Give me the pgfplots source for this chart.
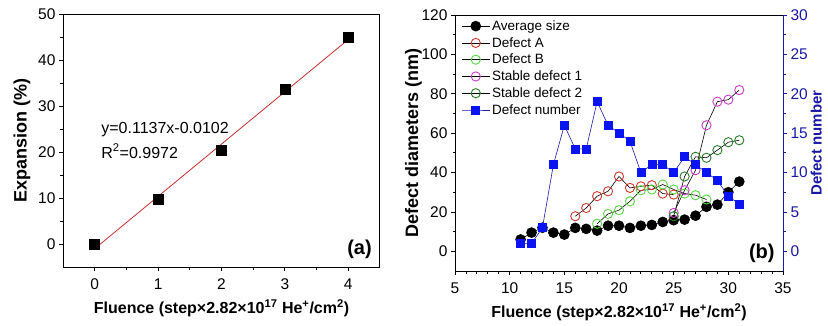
\documentclass[border=0pt]{standalone}
\usepackage{fontspec}
\setmainfont{Liberation Sans}
\usepackage{pgfplots}
\pgfplotsset{compat=1.18}
\definecolor{fitred}{RGB}{195,45,45}
\definecolor{cA}{RGB}{205,55,45}
\definecolor{cB}{RGB}{90,215,70}
\definecolor{cS1}{RGB}{200,60,200}
\definecolor{cS2}{RGB}{40,125,40}
\definecolor{cBlue}{RGB}{10,20,240}
\definecolor{axBlue}{RGB}{25,25,165}
\newcommand{\flu}{Fluence (step×2.82×10\textsuperscript{17} He\textsuperscript{+}/cm\textsuperscript{2})}
\pgfplotsset{
  common/.style={
    scale only axis,
    anchor=south west,
    /pgf/number format/assume math mode=true,
    tick label style={font=\fontsize{15.5}{17}\selectfont},
    xticklabel style={yshift=-4pt},
    xlabel style={font=\bfseries\fontsize{16}{18}\selectfont, yshift=-3pt},
    ylabel style={font=\bfseries\fontsize{18}{20}\selectfont},
    axis line style={line width=1pt},
    major tick length=4pt,
    minor tick length=2.5pt,
    every tick/.style={line width=0.8pt},
    tick align=outside,
  }
}
\begin{document}
\begin{tikzpicture}
\path[use as bounding box] (0,0) rectangle (828pt,325pt);
% Panel (a)
\begin{axis}[common,
  at={(63pt,58pt)}, width=317pt, height=253pt,
  xmin=-0.5, xmax=4.5, ymin=-5, ymax=50,
  xtick={0,1,2,3,4}, ytick={0,10,20,30,40,50},
  minor x tick num=1, minor y tick num=1,
  xtick pos=lower, ytick pos=left,
  xlabel={\flu},
  ylabel={Expansion (\%)},
  ylabel style={yshift=1pt},
]
\addplot[only marks, mark=square*, mark size=5pt, black] coordinates {
(0,0) (1,9.7) (2,20.3) (3,33.6) (4,45.0)};
\addplot[fitred, line width=0.8pt] coordinates {(0,-1.02) (4,44.46)};
\node[anchor=west, font=\fontsize{16}{18}\selectfont] at (axis cs:0.05,24.8) {y=0.1137x-0.0102};
\node[anchor=west, font=\fontsize{16}{18}\selectfont] at (axis cs:0.05,20.2) {R\textsuperscript{2}=0.9972};
\node[anchor=south east, font=\bfseries\fontsize{20}{22}\selectfont] at (rel axis cs:0.985,0.02) {(a)};
\end{axis}
% Panel (b) left axis
\begin{axis}[common,
  at={(455pt,54pt)}, width=328pt, height=256pt,
  xmin=5, xmax=35, ymin=-10, ymax=120,
  xtick={5,10,...,35}, ytick={0,20,...,120},
  minor x tick num=4, minor y tick num=1,
  xtick pos=lower, ytick pos=left,
  xlabel={\flu},
  ylabel={Defect diameters (nm)},
  ylabel style={yshift=-7pt},
  legend cell align=left,
  legend image code/.code={\draw[mark repeat=2,mark phase=2] plot coordinates {(0pt,0pt) (14pt,0pt) (28pt,0pt)};},
  legend style={at={(0.01,0.995)}, anchor=north west, draw=none, fill=none,
    font=\fontsize{13.5}{15}\selectfont, row sep=1.5pt,
    /tikz/every even column/.append style={column sep=2pt}},
]
\addplot[black, line width=0.6pt, mark=*, mark size=5pt, mark options={fill=black}] coordinates {
(11,6.0) (12,9.5) (13,12.0) (14,9.5) (15,8.5) (16,11.9) (17,11.4) (18,10.5) (19,13.0) (20,13.0)
(21,11.9) (22,13.0) (23,13.4) (24,14.9) (25,15.8) (26,16.1) (27,18.1) (28,22.6) (29,23.7) (30,30.0) (31,35.4)};
\addlegendentry{Average size}
\addplot[black, line width=0.6pt, mark=o, mark size=4.6pt, mark options={draw=cA, line width=0.9pt}] coordinates {
(16,17.8) (17,22.0) (18,28.0) (19,30.5) (20,38.0) (21,32.2) (22,33.0) (23,33.6) (24,29.3) (25,28.8)};
\addlegendentry{Defect A}
\addplot[black, line width=0.6pt, mark=o, mark size=4.6pt, mark options={draw=cB, line width=0.9pt}] coordinates {
(18,14.0) (19,19.0) (20,20.9) (21,25.4) (22,31.0) (23,31.4) (24,33.9) (25,31.4) (26,29.3) (27,28.5) (28,26.3)};
\addlegendentry{Defect B}
\addplot[black, line width=0.6pt, mark=o, mark size=4.6pt, mark options={draw=cS1, line width=0.9pt}] coordinates {
(25,19.5) (26,31.0) (27,41.2) (28,64.0) (29,76.0) (30,77.0) (31,81.9)};
\addlegendentry{Stable defect 1}
\addplot[black, line width=0.6pt, mark=o, mark size=4.6pt, mark options={draw=cS2, line width=0.9pt}] coordinates {
(25,17.8) (26,38.0) (27,48.0) (28,47.5) (29,51.4) (30,55.4) (31,56.4)};
\addlegendentry{Stable defect 2}
\addlegendimage{axBlue, line width=0.6pt, mark=square*, mark size=4pt, mark options={draw=cBlue, fill=cBlue}}
\addlegendentry{Defect number}
\node[anchor=south east, font=\bfseries\fontsize{20}{22}\selectfont] at (rel axis cs:0.985,0.02) {(b)};
\end{axis}
% Panel (b) right axis
\begin{axis}[common,
  at={(455pt,54pt)}, width=328pt, height=256pt,
  xmin=5, xmax=35, ymin=-2.5, ymax=30,
  axis x line=none, axis y line*=right,
  ytick={0,5,...,30}, minor y tick num=1,
  y axis line style={axBlue, line width=1pt},
  ytick style={axBlue},
  yticklabel style={text=axBlue},
  ylabel={Defect number},
  ylabel style={text=axBlue, font=\bfseries\fontsize{15}{17}\selectfont, yshift=4pt},
]
\addplot[axBlue, line width=0.6pt, mark=square*, mark size=4pt, mark options={draw=cBlue, fill=cBlue}] coordinates {
(11,1) (12,1) (13,3) (14,11) (15,16) (16,13) (17,13) (18,19) (19,16) (20,15)
(21,14) (22,10) (23,11) (24,11) (25,10) (26,12) (27,11) (28,10) (29,9) (30,7) (31,6)};
\end{axis}
\end{tikzpicture}
\end{document}
